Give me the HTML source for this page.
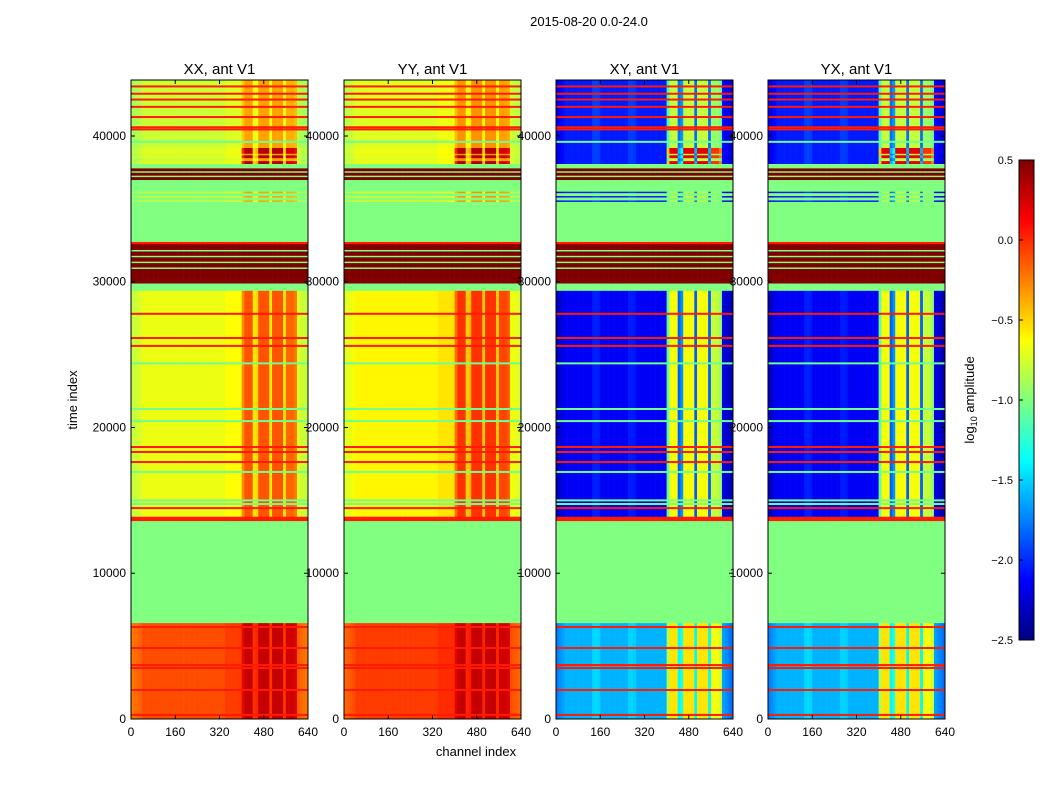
<!DOCTYPE html>
<html><head><meta charset="utf-8"><style>
body{margin:0;background:#fff;}
svg text{font-family:"Liberation Sans",sans-serif;fill:#000;}
</style></head><body>
<svg id="fig" width="1050" height="800" xmlns="http://www.w3.org/2000/svg">
<rect width="1050" height="800" fill="#fff"/>
<text x="589" y="26" font-size="13" text-anchor="middle">2015-08-20 0.0-24.0</text>
<text transform="translate(77,400) rotate(-90)" font-size="13" text-anchor="middle">time index</text>
<text x="476" y="756" font-size="13" text-anchor="middle">channel index</text>
<g id="panels"></g>
<g id="cbar"></g>
</svg>
<script>
const panelTitles=["XX, ant V1","YY, ant V1","XY, ant V1","YX, ant V1"];
const xTicks=[0,160,320,480,640];
const yTicks=[0,10000,20000,30000,40000];
const cbTicks=[0.5,0.0,-0.5,-1.0,-1.5,-2.0,-2.5];
const segStart=[0,6600,13600,13900,29400,29900,30900,31000,31300,31400,31700,31800,32100,32200,32600,32750,35500,35600,35800,35900,36100,36200,37000,37200,37300,37500,37600,37800,38100,38300,38500,38700,38800,39200];
const segEnd  =[6600,13600,13900,29400,29900,30900,31000,31300,31400,31700,31800,32100,32200,32600,32750,35500,35600,35800,35900,36100,36200,37000,37200,37300,37500,37600,37800,38100,38300,38500,38700,38800,39200,43850];
const segKind =["L","F","O","D","F","R","F","R","F","R","F","R","F","R","O","F","T","F","T","F","T","F","R","F","R","F","R","F","H","T","H","T","H","T"];
const lineTime=[27800,26140,25600,18660,18320,17630,14470,6310,4870,3700,3500,1990,280,24400,21270,20440,16950,15000,14750,43400,42900,42500,42000,41300,40600,40450,39600];
const lineKind=["O","O","O","O","O","O","O","O","O","O","O","O","O","G","G","G","G","G","G","O","O","O","O","O","O","O","G"];
const kinds=["L","F","O","R","G","D","T","H"];
const xxBase=[-0.1,-1.0,0.05,0.5,-1.05,-0.68,-0.78,-0.72];
const xxHot =[0.3,-1.0,0.05,0.5,-1.05,-0.12,-0.35,0.35];
const yyBase=[-0.05,-1.0,0.05,0.5,-1.05,-0.6,-0.72,-0.68];
const yyHot =[0.3,-1.0,0.05,0.5,-1.05,-0.02,-0.3,0.35];
const xyBase=[-1.6,-1.0,0.05,0.5,-1.05,-2.15,-2.05,-2.05];
const xyHot =[-0.55,-1.0,0.05,0.5,-1.05,-0.65,-0.8,0.2];
const yxBase=[-1.6,-1.0,0.05,0.5,-1.05,-2.15,-2.05,-2.05];
const yxHot =[-0.55,-1.0,0.05,0.5,-1.05,-0.65,-0.8,0.2];
const hotProfile=[0,0,0,0,0,0,0,0,0,0,0,0,0,0,0,0,0,0,0,0,0,0,0,0,0,0,0,0,0,0,0,0,0,0,0,0,0,0,0,0,
 0.7,1,1,1,0.2,0.3,1,1,1,1,0.2,1,1,1,1,0.2,0.9,0.9,0.9,0.8,0,0,0,0];
const texPar=[-0.12,-0.1,-0.08,-0.05,0,0,0,0,0,0,0,0,0,0,0,0,0,0,0,0,0,0,0,0,0,0,0,0,0,0,0,0,0,0,0.05,0.05,0.05,0.05,0.05,0.05,
 0,0,0,0,0,0,0,0,0,0,0,0,0,0,0,0,0,0,0,0,-0.05,-0.08,-0.1,-0.12];
const texCross=[-0.15,-0.1,-0.05,0,0,0,0,0,0,0,0,0,0,0.1,0.12,0.1,0,0,0,0,0,0,0,0,0,0,0.1,0.1,0.08,0,0,0,0,0,0,0,0,0,0,0,
 0,0,0,0,0,0,0,0,0,0,0,0,0,0,0,0,0,0,0,0,-0.05,-0.1,-0.15,-0.2];
const baseArr=[xxBase,yyBase,xyBase,yxBase], hotArr=[xxHot,yyHot,xyHot,yxHot];

const NS="http://www.w3.org/2000/svg";
const panelLeft=[131,344,556,768], pw=177, topY=80, bottomY=719, tMax=43842;
const yS=t=>bottomY-(t/tMax)*(bottomY-topY);
function jet(v){let x=(v+2.5)/3;x=Math.max(0,Math.min(1,x));
 const f=c=>Math.max(0,Math.min(1,1.5-Math.abs(4*x-c)));
 return `rgb(${Math.round(f(3)*255)},${Math.round(f(2)*255)},${Math.round(f(1)*255)})`;}
function mk(tag,attrs,parent){const e=document.createElementNS(NS,tag);for(const k in attrs)e.setAttribute(k,attrs[k]);parent.appendChild(e);return e;}
function val(p,k,b){const i=kinds.indexOf(k);const base=baseArr[p][i],hot=hotArr[p][i];
 if(base===hot)return base;const tex=p<2?texPar:texCross;return base+(hot-base)*hotProfile[b]+tex[b];}
const panels=document.getElementById('panels');
panelTitles.forEach((title,p)=>{
 const L=panelLeft[p];const xS=c=>L+c/640*pw;
 const g=mk('g',{},panels);
 
 
 yTicks.forEach(t=>{const tx=mk('text',{x:L-5,y:yS(t)+4,'font-size':12,'text-anchor':'end'},g);tx.textContent=t;
  
  });
 const hm=mk('g',{},g);
 
 
 const bw=pw/hotProfile.length;
 segStart.forEach((s,i)=>{const y1=yS(segEnd[i]),y0=yS(s);
  for(let b=0;b<hotProfile.length;b++){
   const r=mk('rect',{x:(L+b*bw).toFixed(2),y:y1.toFixed(2),width:(bw+0.3).toFixed(2),height:(y0-y1+0.3).toFixed(2),fill:jet(val(p,segKind[i],b))},hm);
   
   }});
 lineTime.forEach((t,i)=>{const y=yS(t);
  const r=mk('rect',{x:L,y:(y-1).toFixed(2),width:pw,height:2,fill:jet(val(p,lineKind[i],0))},hm);
  
  });
 const fr=mk('rect',{x:L,y:topY,width:pw,height:bottomY-topY,fill:'none',stroke:'#000','stroke-width':1},g);
 
 
 xTicks.forEach(c=>{const x=xS(c);
  mk('line',{x1:x,x2:x,y1:bottomY,y2:bottomY-4,stroke:'#000'},g);mk('line',{x1:x,x2:x,y1:topY,y2:topY+4,stroke:'#000'},g);
  const tx=mk('text',{x:x,y:bottomY+17,'font-size':12,'text-anchor':'middle'},g);tx.textContent=c;
  
  });
 yTicks.forEach(t=>{const y=yS(t);
  mk('line',{x1:L,x2:L+4,y1:y,y2:y,stroke:'#000'},g);mk('line',{x1:L+pw,x2:L+pw-4,y1:y,y2:y,stroke:'#000'},g);});
 const tt=mk('text',{x:L+pw/2,y:74,'font-size':15,'text-anchor':'middle'},g);tt.textContent=title;
 
 
});
const cb=document.getElementById('cbar');const cbx=1019,cbw=15,cbT=160,cbB=640;
const cv=v=>cbB-(v+2.5)/3*(cbB-cbT);
for(let i=0;i<240;i++){const v=-2.5+3*(i+0.5)/240;
 const r=mk('rect',{x:cbx,y:(cbB-(i+1)*2).toFixed(1),width:cbw,height:2.3,fill:jet(v)},cb);
 
 }
mk('rect',{x:cbx,y:cbT,width:cbw,height:cbB-cbT,fill:'none',stroke:'#000'},cb);
cbTicks.forEach(v=>{const y=cv(v);mk('line',{x1:cbx,x2:cbx+4,y1:y,y2:y,stroke:'#000'},cb);
 const tx=mk('text',{x:1013,y:y+4,'font-size':11,'text-anchor':'end'},cb);tx.textContent=(v<0?'\u2212':'')+Math.abs(v).toFixed(1);
 
 });
const lab=mk('text',{transform:'translate(974,400) rotate(-90)','font-size':13,'text-anchor':'middle'},cb);


lab.innerHTML='log<tspan font-size="9" dy="3">10</tspan><tspan dy="-3"> amplitude</tspan>';
</script>
</body></html>
